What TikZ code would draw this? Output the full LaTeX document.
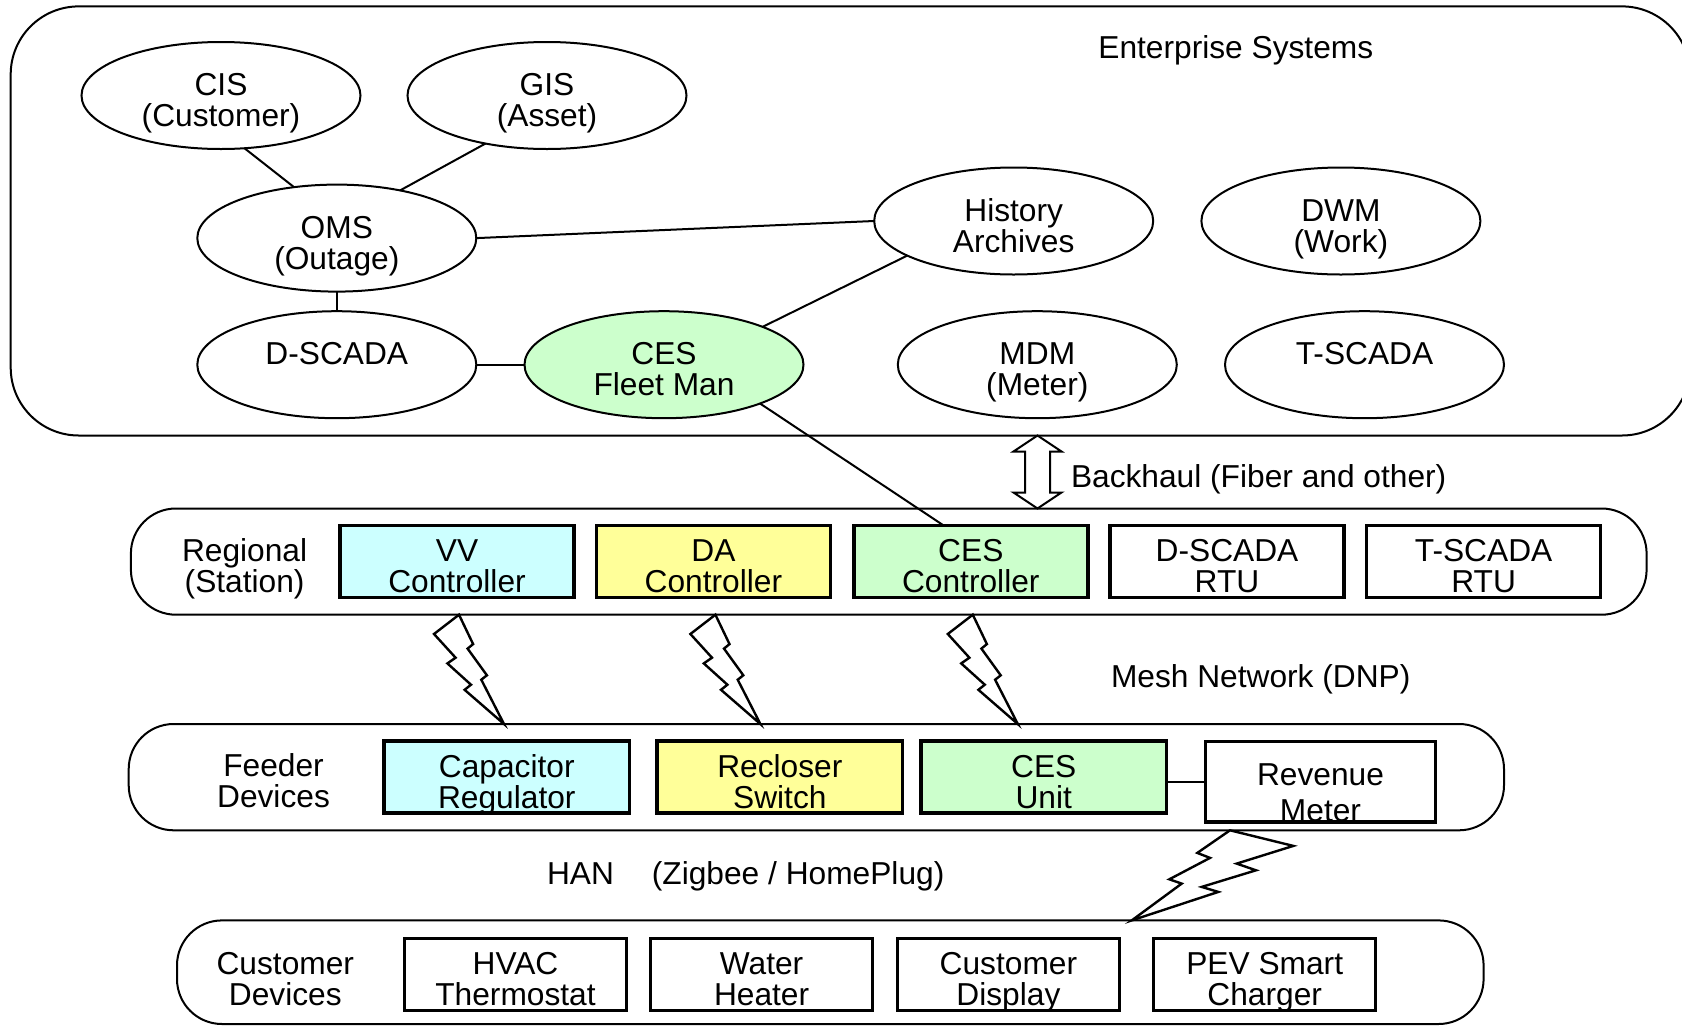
\documentclass[tikz,border=0pt]{standalone}
\usepackage{fontspec}
\setmainfont{Liberation Sans}
\usetikzlibrary{calc,shapes.geometric}
\definecolor{vvcyan}{HTML}{CCFFFF}
\definecolor{dayellow}{HTML}{FFFF99}
\definecolor{cesgreen}{HTML}{CCFFCC}
\tikzset{
  every node/.style={font=\fontsize{31.7}{31}\selectfont, inner sep=0pt, outer sep=0pt},
  group/.style={draw, line width=2pt, rounded corners=#1, rectangle},
  group/.default=45pt,
  % two-line text: box centred on the first baseline
  basemid/.style={align=center, text height=62pt, text depth=0pt},
  % one-line text: box centred on its baseline
  onemid/.style={align=center, text height=10pt, text depth=10pt},
  oval/.style={draw, line width=2pt, ellipse, fill=white, minimum width=279pt, minimum height=107pt, basemid},
  unit/.style={draw, line width=3.4pt, rectangle, fill=white, minimum height=72pt, basemid},
  link/.style={line width=2pt},
  bolt/.style={draw, line width=2.4pt, line join=miter, fill=white},
}
\begin{document}
\begin{tikzpicture}[x=1pt, y=-1pt]
\fill[white] (0,0) rectangle (1682,1026);
\useasboundingbox (0,0) rectangle (1682,1026);

% ---- tier frames ----
\node[group=68pt, minimum width=1679.3pt, minimum height=429.1pt] (ent) at (850.35,220.95) {};
\node[group, minimum width=1515.7pt, minimum height=106.2pt] (reg) at (888.75,561.6) {};
\node[group, minimum width=1375.3pt, minimum height=106.3pt] (fdr) at (816.35,777.15) {};
\node[group, minimum width=1306.6pt, minimum height=103.6pt] (cust) at (830.3,972.2) {};

% ---- enterprise systems ----
\node[anchor=base] (enttitle) at (1235.8,58.5) {Enterprise Systems};
\node[oval] (cis) at (221,95.5) {CIS\\(Customer)};
\node[oval] (gis) at (547,95.5) {GIS\\(Asset)};
\node[oval] (oms) at (336.8,238.1) {OMS\\(Outage)};
\node[oval] (hist) at (1013.7,221) {History\\Archives};
\node[oval] (dwm) at (1340.9,221) {DWM\\(Work)};
\node[oval, onemid] (dscada) at (336.8,364.7) {D-SCADA};
\node[oval, fill=cesgreen] (cesf) at (664,364.7) {CES\\Fleet Man};
\node[oval] (mdm) at (1037.3,364.7) {MDM\\(Meter)};
\node[oval, onemid] (tscada) at (1364.5,364.7) {T-SCADA};

\draw[link] (cis.-66) -- (oms.130);
\draw[link] (gis.-142) -- (oms.37);
\draw[link] (oms.east) -- (hist.west);
\draw[link] (oms.south) -- (dscada.north);
\draw[link] (dscada.east) -- (cesf.west);
\draw[link] (hist.-162.6) -- (cesf.21.9);

% ---- backhaul ----
\path (ent.south) ++(187.15,0) coordinate (bht);
\draw[line width=2pt, fill=white, shift={(bht)}]
  (0,0) -- (24,16) -- (12.5,16) -- (12.5,57) -- (24,57) -- (0,73)
  -- (-24,57) -- (-12.5,57) -- (-12.5,16) -- (-24,16) -- cycle;
\node[anchor=base west] (bhlabel) at (1071,487) {Backhaul (Fiber and other)};

% ---- regional (station) ----
\node[basemid] (reglabel) at (244.6,561.6) {Regional\\(Station)};
\node[unit, fill=vvcyan, minimum width=234pt] (vv) at (457,561.6) {VV\\Controller};
\node[unit, fill=dayellow, minimum width=234pt] (dac) at (713.4,561.6) {DA\\Controller};
\node[unit, fill=cesgreen, minimum width=234pt] (cesc) at (970.8,561.6) {CES\\Controller};
\node[unit, minimum width=234pt] (drtu) at (1227,561.6) {D-SCADA\\RTU};
\node[unit, minimum width=234pt] (trtu) at (1483.6,561.6) {T-SCADA\\RTU};

\draw[link] (cesf.-22.1) -- ([xshift=-27pt]cesc.north);

% ---- mesh network ----
\node[anchor=base west] (meshlabel) at (1111,687) {Mesh Network (DNP)};
\coordinate (m1) at ($(vv.south |- reg.south)+(2,0)$);
\coordinate (m2) at ($(dac.south |- reg.south)+(2,0)$);
\coordinate (m3) at ($(cesc.south |- reg.south)+(2,0)$);
\foreach \m in {m1,m2,m3}{
  \draw[bolt, shift={(\m)}]
    (0,0) -- (14.1,29.4) -- (8.6,33.9) -- (27.9,60.6) -- (22.3,65) -- (45,109.3)
    -- (5.6,75.1) -- (12,70) -- (-11.6,48.7) -- (-3.4,43) -- (-25,19.3) -- cycle;
}

% ---- feeder devices ----
\node[basemid] (fdrlabel) at (273.5,776) {Feeder\\Devices};
\node[unit, fill=vvcyan, minimum width=245.6pt] (capreg) at (506.8,777) {Capacitor\\Regulator};
\node[unit, fill=dayellow, minimum width=245.6pt] (recl) at (779.8,777) {Recloser\\Switch};
\node[unit, fill=cesgreen, minimum width=245.6pt] (cesu) at (1043.7,777) {CES\\Unit};
\node[unit, minimum width=229.6pt, minimum height=80.5pt, text height=80.6pt, text depth=0pt,
      font=\fontsize{31.7}{36}\selectfont] (rev) at (1320.5,781.5) {Revenue\\Meter};
\draw[link] (rev.west -| cesu.east) -- (rev.west);

% ---- home area network ----
\node[anchor=base west] (hanlabel) at (547,884.5) {HAN\hspace{38pt}(Zigbee / HomePlug)};
\path (rev.south |- fdr.south) ++(-90.5,0) coordinate (hb);
\draw[bolt, shift={(hb)}]
  (0,0) -- (63.3,15.6) -- (6.7,33.3) -- (26,40) -- (-28.3,56.6) -- (-11.7,61.6)
  -- (-98.3,90.1) -- (-48.3,53.3) -- (-60.7,49) -- (-20,27.6) -- (-32.7,22.6) -- cycle;

% ---- customer devices ----
\node[basemid] (custlabel) at (285.3,974.6) {Customer\\Devices};
\node[unit, minimum width=222pt] (hvac) at (515.5,974.5) {HVAC\\Thermostat};
\node[unit, minimum width=222pt] (wh) at (761.6,974.5) {Water\\Heater};
\node[unit, minimum width=222pt] (cdisp) at (1008.4,974.5) {Customer\\Display};
\node[unit, minimum width=222pt] (pev) at (1264.7,974.5) {PEV Smart\\Charger};
\end{tikzpicture}
\end{document}
